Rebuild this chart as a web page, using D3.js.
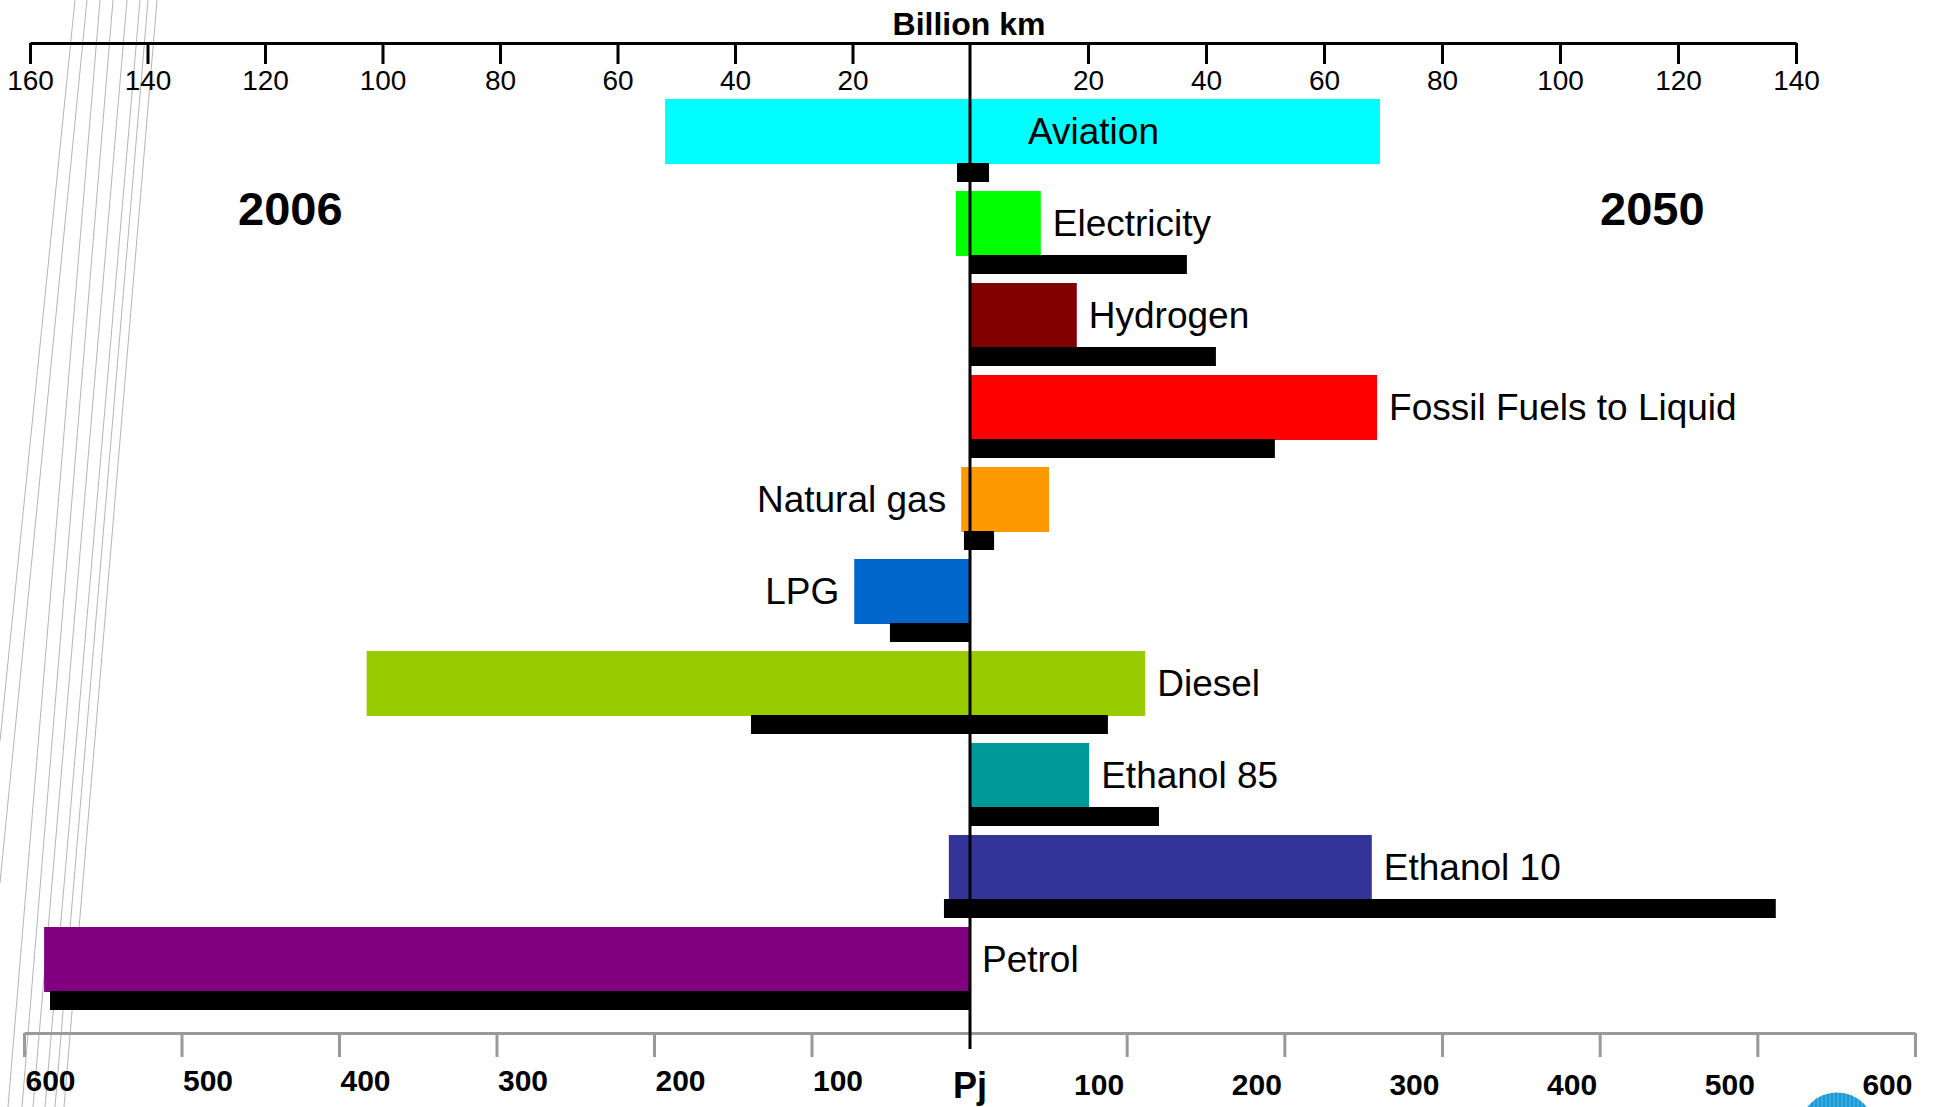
<!DOCTYPE html>
<html>
<head>
<meta charset="utf-8">
<script src="https://cdn.jsdelivr.net/npm/d3@7"></script>
<style>
    body { margin: 0; background: #fff; }
    svg { display: block; font-family: "Liberation Sans", Arial, sans-serif; }
</style>
</head>
<body>
<svg id="chart" width="1935" height="1107" viewBox="0 0 1935 1107"></svg>
<script>
// categories top to bottom
const categories = ["Aviation", "Electricity", "Hydrogen", "Fossil Fuels to Liquid", "Natural gas",
    "LPG", "Diesel", "Ethanol 85", "Ethanol 10", "Petrol"]
const barColors = ["#00ffff", "#00ff00", "#800000", "#ff0000", "#ff9900",
    "#0066cc", "#99cc00", "#009999", "#333399", "#800080"]

// billion km (top axis), 2006 to the left, 2050 to the right
const km2006 = [51.9, 2.4, 0, 0, 1.5, 19.7, 102.7, 0, 3.6, 157.6]
const km2050 = [69.5, 12.0, 18.1, 69.0, 13.4, 0, 29.7, 20.2, 68.1, 0]

// Pj (bottom axis, black bars)
const pj2006 = [7.6, 0, 0, 0, 3.2, 50.2, 138.4, 0, 15.9, 583.5]
const pj2050 = [12.7, 138.2, 156.6, 194, 15.9, 0, 88.1, 120.5, 511.7, 0]

const kmTicks = [-160, -140, -120, -100, -80, -60, -40, -20, 20, 40, 60, 80, 100, 120, 140]
const pjTicks = [-600, -500, -400, -300, -200, -100, 100, 200, 300, 400, 500, 600]

const yearLeft = "2006"
const yearRight = "2050"

let data = categories.map(function (c, i) {
    return {cat: c, color: barColors[i], kmL: km2006[i], kmR: km2050[i], pjL: pj2006[i], pjR: pj2050[i]}
})

let svg = d3.select('#chart')

// faint diagonal lines on the left edge of the scan
let scanLines = [[75, 0, 0, 741], [87, 0, 0, 883], [100, 0, 8, 1107], [113, 0, 22, 1107],
    [127, 0, 33, 1107], [140, 0, 45, 1107], [148, 0, 55, 1107], [157, 0, 64, 1107]]
svg.append("g")
    .selectAll("line")
    .data(scanLines)
    .enter()
    .append("line")
    .attr("x1", d => d[0]).attr("y1", d => d[1])
    .attr("x2", d => d[2]).attr("y2", d => d[3])
    .style("stroke", "#b4b4b4")
    .style("stroke-width", 1)

let xKm = d3.scaleLinear().domain([-160, 0, 140]).range([30, 970, 1796])
let xPj = d3.scaleLinear().domain([-600, 0, 600]).range([24, 969, 1915])
let y = d3.scaleBand().domain(categories).range([99, 1019])

let barH = 65
let blackOff = 64
let blackH = 19

// colored bars (billion km)
svg.append("g")
    .selectAll("rect")
    .data(data)
    .enter()
    .append("rect")
    .attr("x", d => xKm(-d.kmL))
    .attr("y", d => y(d.cat))
    .attr("width", d => xKm(d.kmR) - xKm(-d.kmL))
    .attr("height", barH)
    .attr("fill", d => d.color)

// black bars (Pj)
svg.append("g")
    .selectAll("rect")
    .data(data.filter(d => d.pjL + d.pjR > 0))
    .enter()
    .append("rect")
    .attr("x", d => xPj(-d.pjL))
    .attr("y", d => y(d.cat) + blackOff)
    .attr("width", d => xPj(d.pjR) - xPj(-d.pjL))
    .attr("height", blackH)
    .attr("fill", "#000")

// category labels
let leftLabels = ["Natural gas", "LPG"]
svg.append("g")
    .selectAll("text")
    .data(data)
    .enter()
    .append("text")
    .attr("x", function (d) {
        if (d.cat === "Aviation") return xKm(0) + 58
        if (leftLabels.includes(d.cat)) return xKm(-d.kmL) - 15
        return xKm(d.kmR) + 12
    })
    .attr("y", d => y(d.cat) + barH / 2)
    .attr("dy", "0.35em")
    .attr("text-anchor", d => leftLabels.includes(d.cat) ? "end" : "start")
    .style("font-size", "37px")
    .style("fill", "#000")
    .text(d => d.cat)

// top axis
let topAxis = svg.append("g")
    .attr("transform", "translate(0,43)")
    .call(d3.axisBottom(xKm).tickValues(kmTicks).tickSize(21).tickSizeOuter(0).tickPadding(6)
        .tickFormat(d => Math.abs(d)))
topAxis.select(".domain").style("stroke", "#000").style("stroke-width", 3)
topAxis.selectAll(".tick line").style("stroke", "#000").style("stroke-width", 3)
topAxis.selectAll(".tick text")
    .style("font-family", '"Liberation Sans", Arial, sans-serif')
    .style("font-size", "28px")
    .style("fill", "#000")

// bottom axis
let bottomAxis = svg.append("g")
    .attr("transform", "translate(0,1033)")
    .call(d3.axisBottom(xPj).tickValues(pjTicks).tickSize(24).tickSizeOuter(0).tickPadding(18)
        .tickFormat(d => Math.abs(d)))
bottomAxis.select(".domain").style("stroke", "#999").style("stroke-width", 3)
bottomAxis.selectAll(".tick line").style("stroke", "#999").style("stroke-width", 3)
bottomAxis.selectAll(".tick text")
    .attr("text-anchor", d => d < 0 ? "start" : "end")
    .attr("x", d => d < 0 ? 1 : -3)
    .attr("y", d => d < 0 ? 37 : 41)
    .style("font-family", '"Liberation Sans", Arial, sans-serif')
    .style("font-size", "30px")
    .style("font-weight", "bold")
    .style("fill", "#000")

// zero line
svg.append("line")
    .attr("x1", xKm(0)).attr("x2", xKm(0))
    .attr("y1", 43).attr("y2", 1049)
    .style("stroke", "#000")
    .style("stroke-width", 3)

// titles
svg.append("text")
    .attr("x", xKm(0) - 1).attr("y", 35)
    .attr("text-anchor", "middle")
    .style("font-size", "32px").style("font-weight", "bold")
    .text("Billion km")

svg.append("text")
    .attr("x", xKm(0)).attr("y", 1098)
    .attr("text-anchor", "middle")
    .style("font-size", "36px").style("font-weight", "bold")
    .text("Pj")

svg.append("text")
    .attr("x", 238).attr("y", 225)
    .style("font-size", "47px").style("font-weight", "bold")
    .text(yearLeft)

svg.append("text")
    .attr("x", 1600).attr("y", 225)
    .style("font-size", "47px").style("font-weight", "bold")
    .text(yearRight)

// bit of the blue logo cut off at the bottom right
let logo = svg.append("g")
svg.append("clipPath").attr("id", "logoClip")
    .append("circle").attr("cx", 1837).attr("cy", 1130).attr("r", 37.5)
logo.append("circle")
    .attr("cx", 1837).attr("cy", 1130).attr("r", 37.5)
    .attr("fill", "#35ade0")
logo.append("g")
    .attr("clip-path", "url(#logoClip)")
    .selectAll("line")
    .data(d3.range(1800, 1876, 4))
    .enter()
    .append("line")
    .attr("x1", d => d).attr("x2", d => d)
    .attr("y1", 1090).attr("y2", 1107)
    .style("stroke", "#1487c9")
    .style("stroke-width", 1.2)
</script>
</body>
</html>
